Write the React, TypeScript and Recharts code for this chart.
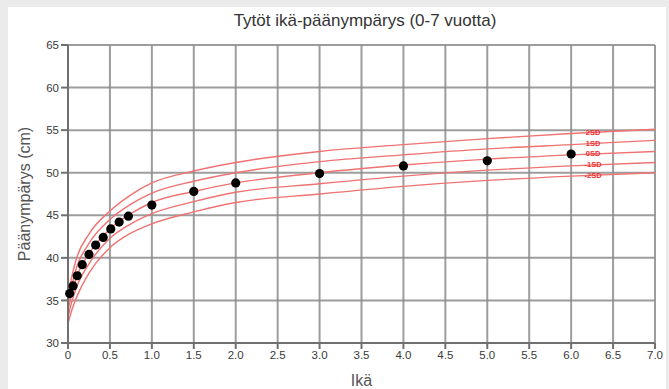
import React from 'react';
import { ComposedChart, Line, Scatter, XAxis, YAxis, CartesianGrid } from 'recharts';

// reference curves (cm) by age (years)
const curveAges = [0, 0.05, 0.1, 0.25, 0.5, 0.75, 1.0, 1.5, 2.0, 3.0, 4.0, 5.0, 6.0, 7.0];
const sdPlus2 = [35.5, 38.0, 39.9, 42.8, 45.5, 47.4, 48.8, 50.2, 51.2, 52.5, 53.3, 54.0, 54.6, 55.1];
const sdPlus1 = [34.6, 37.0, 38.8, 41.7, 44.5, 46.3, 47.6, 49.0, 50.0, 51.3, 52.1, 52.8, 53.3, 53.8];
const sdMedian = [33.8, 36.0, 37.7, 40.5, 43.4, 45.2, 46.5, 47.8, 48.8, 50.0, 50.9, 51.6, 52.1, 52.5];
const sdMinus1 = [33.0, 35.0, 36.5, 39.3, 42.3, 44.0, 45.2, 46.6, 47.7, 48.7, 49.6, 50.3, 50.8, 51.2];
const sdMinus2 = [32.3, 34.0, 35.3, 38.2, 41.2, 42.9, 44.0, 45.4, 46.5, 47.5, 48.4, 49.1, 49.6, 50.0];

// measurements
const childAges = [0.02, 0.06, 0.11, 0.17, 0.25, 0.33, 0.42, 0.51, 0.61, 0.72, 1.0, 1.5, 2.0, 3.0, 4.0, 5.0, 6.0];
const childHc = [35.8, 36.7, 37.9, 39.2, 40.4, 41.5, 42.4, 43.4, 44.2, 44.9, 46.2, 47.8, 48.8, 49.9, 50.8, 51.4, 52.2];

const xTicks = [0, 0.5, 1, 1.5, 2, 2.5, 3, 3.5, 4, 4.5, 5, 5.5, 6, 6.5, 7];
const yTicks = [30, 35, 40, 45, 50, 55, 60, 65];

const sdKeys = ['p2', 'p1', 'm', 'n1', 'n2'];
const sdLabels = ['2SD', '1SD', '0SD', '-1SD', '-2SD'];
const labelAtIndex = 12; // labels sit just right of age 6

const curveData = curveAges.map((age, i) => ({
  age,
  p2: sdPlus2[i],
  p1: sdPlus1[i],
  m: sdMedian[i],
  n1: sdMinus1[i],
  n2: sdMinus2[i],
}));

const points = childAges.map((age, i) => ({ age, hc: childHc[i] }));

const fmtX = (v: number) => (v === 0 ? '0' : v.toFixed(1));

const sdLabel = (text: string) => (props: any) => {
  if (props.index !== labelAtIndex) return <g />;
  return (
    <text
      x={props.x + 22}
      y={props.y - 1}
      textAnchor="middle"
      dominantBaseline="central"
      fontSize={7.5}
      fontWeight="bold"
      fill="#ee3030"
    >
      {text}
    </text>
  );
};

const Dot = (props: any) => <circle cx={props.cx} cy={props.cy} r={4.6} fill="#000" />;

export default function App() {
  return (
    <div style={{ position: 'absolute', left: 0, top: 0, width: 669, height: 389, background: '#ebebeb', fontFamily: '"Liberation Sans", Arial, sans-serif' }}>
      <div style={{ position: 'absolute', left: 8, top: 7, width: 658, height: 382, background: '#fff' }} />
      <div style={{ position: 'absolute', left: 68, width: 594, top: 11, textAlign: 'center', fontSize: 17, color: '#333' }}>
        Tytöt ikä-päänympärys (0-7 vuotta)
      </div>
      <div style={{ position: 'absolute', left: 0, top: 0 }}>
        <ComposedChart width={669} height={389} data={curveData} margin={{ top: 45, right: 14, bottom: 0, left: 0 }}>
          <CartesianGrid stroke="#8c8c8c" strokeWidth={2} strokeOpacity={0.85} />
          <XAxis
            dataKey="age"
            type="number"
            domain={[0, 7]}
            ticks={xTicks}
            tickFormatter={fmtX}
            interval={0}
            height={46}
            tickSize={6}
            stroke="#707070"
            strokeWidth={2}
            tick={{ fontSize: 11.5, fill: '#3a3a3a' }}
            label={{ value: 'Ikä', position: 'center', dy: 14, fontSize: 16, fill: '#555' }}
          />
          <YAxis
            type="number"
            domain={[30, 65]}
            ticks={yTicks}
            interval={0}
            width={68}
            tickSize={7}
            stroke="#707070"
            strokeWidth={2}
            tick={{ fontSize: 11.5, fill: '#3a3a3a' }}
            label={{ value: 'Päänympärys (cm)', angle: -90, position: 'center', dx: -10, fontSize: 16, fill: '#555' }}
          />
          {sdKeys.map((k, i) => (
            <Line
              key={k}
              dataKey={k}
              type="monotone"
              stroke="#f07272"
              strokeWidth={1.4}
              dot={false}
              isAnimationActive={false}
              label={sdLabel(sdLabels[i])}
            />
          ))}
          <Scatter data={points} dataKey="hc" shape={<Dot />} isAnimationActive={false} />
        </ComposedChart>
      </div>
    </div>
  );
}
